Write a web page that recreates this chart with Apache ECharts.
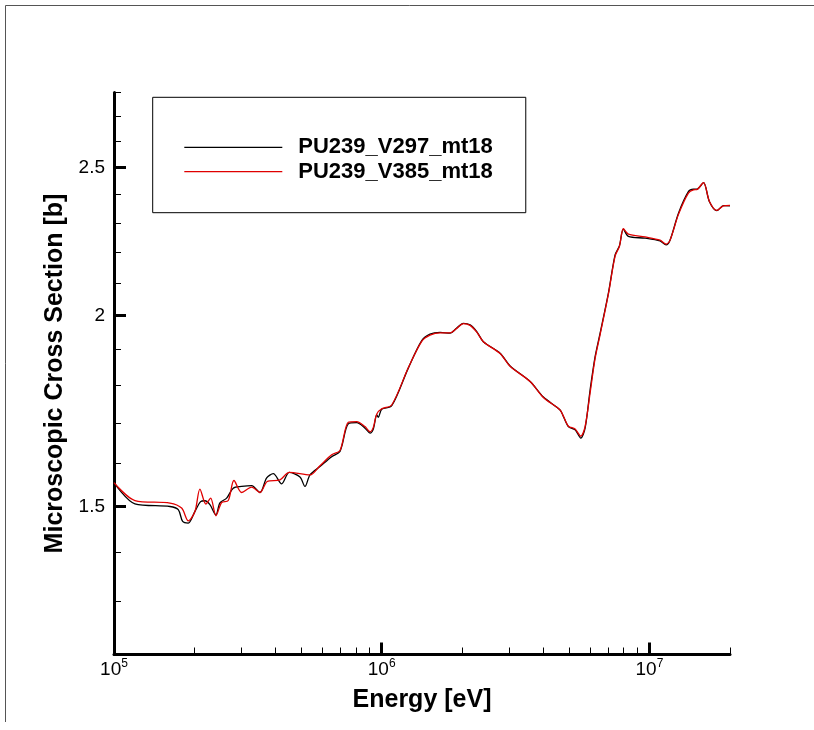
<!DOCTYPE html>
<html>
<head>
<meta charset="utf-8">
<script src="https://cdn.jsdelivr.net/npm/echarts@6/dist/echarts.min.js"></script>
<style>
  html, body { margin: 0; padding: 0; background: #fff; }
  #chart { width: 814px; height: 730px; }
</style>
</head>
<body>
<div id="chart"></div>
<script>
// ---- data (energy in eV, cross section in barns) ----
const seriesNames = ['PU239_V297_mt18', 'PU239_V385_mt18'];

const energyV297 = [1.0e5, 1.197e5, 1.618e5, 1.738e5, 1.805e5, 1.894e5, 2.006e5, 2.106e5, 2.186e5, 2.282e5,
  2.403e5, 2.487e5, 2.635e5, 2.789e5, 2.999e5, 3.267e5, 3.510e5, 3.718e5, 3.935e5, 4.229e5,
  4.515e5, 4.951e5, 5.169e5, 5.397e5, 5.880e5, 6.504e5, 6.986e5, 7.504e5, 8.065e5, 8.663e5,
  9.044e5, 9.304e5, 9.579e5, 9.712e5, 1.0e6, 1.090e6, 1.257e6, 1.411e6, 1.515e6, 1.652e6,
  1.800e6, 1.907e6, 2.018e6, 2.138e6, 2.265e6, 2.397e6, 2.768e6, 3.017e6, 3.584e6, 4.018e6,
  4.638e6, 4.771e6, 4.981e6, 5.277e6, 5.542e6, 5.751e6, 6.004e6, 6.268e6, 6.544e6, 7.027e6,
  7.444e6, 7.725e6, 7.994e6, 8.346e6, 9.636e6, 1.096e7, 1.154e7, 1.195e7, 1.284e7, 1.398e7,
  1.460e7, 1.503e7, 1.592e7, 1.676e7, 1.786e7, 1.890e7, 2.0e7];
const xsV297 = [1.555, 1.506, 1.500, 1.493, 1.4665, 1.463, 1.489, 1.511, 1.513, 1.504,
  1.481, 1.508, 1.519, 1.542, 1.546, 1.548, 1.532, 1.566, 1.576, 1.552,
  1.579, 1.568, 1.546, 1.573, 1.593, 1.617, 1.630, 1.699, 1.702, 1.688,
  1.6755, 1.6856, 1.722, 1.716, 1.737, 1.746, 1.848, 1.926, 1.945, 1.950,
  1.948, 1.963, 1.977, 1.9725, 1.9526, 1.923, 1.890, 1.854, 1.811, 1.769,
  1.735, 1.718, 1.692, 1.684, 1.663, 1.688, 1.788, 1.880, 1.948, 2.069,
  2.192, 2.222, 2.2785, 2.254, 2.248, 2.2386, 2.225, 2.242, 2.334, 2.411,
  2.420, 2.420, 2.444, 2.375, 2.343, 2.361, 2.360];

const energyV385 = [1.0e5, 1.197e5, 1.618e5, 1.789e5, 1.894e5, 2.006e5, 2.094e5, 2.205e5, 2.296e5, 2.403e5,
  2.524e5, 2.672e5, 2.806e5, 2.999e5, 3.267e5, 3.510e5, 3.737e5, 4.169e5, 4.515e5, 5.397e5,
  5.880e5, 6.504e5, 6.986e5,
  7.504e5, 8.065e5, 8.663e5, 9.044e5, 9.304e5, 9.579e5, 1.0e6, 1.090e6, 1.257e6, 1.411e6,
  1.515e6, 1.652e6, 1.800e6, 1.907e6, 2.018e6, 2.138e6, 2.265e6, 2.397e6, 2.768e6, 3.017e6,
  3.584e6, 4.018e6, 4.638e6, 4.771e6, 4.981e6, 5.277e6, 5.542e6, 5.751e6, 6.004e6, 6.268e6,
  6.544e6, 7.027e6, 7.444e6, 7.725e6, 7.994e6, 8.346e6, 9.636e6, 1.096e7, 1.154e7, 1.195e7,
  1.284e7, 1.398e7, 1.460e7, 1.503e7, 1.592e7, 1.676e7, 1.786e7, 1.890e7, 2.0e7];
const xsV385 = [1.555, 1.5136, 1.5077, 1.4964, 1.468, 1.4887, 1.540, 1.5054, 1.519, 1.4791,
  1.509, 1.5136, 1.560, 1.532, 1.5445, 1.532, 1.5576, 1.5616, 1.579, 1.573,
  1.595, 1.6215, 1.632,
  1.703, 1.705, 1.692, 1.679, 1.690, 1.724, 1.738, 1.748, 1.849, 1.924,
  1.942, 1.949, 1.949, 1.962, 1.976, 1.971, 1.951, 1.923, 1.889, 1.853,
  1.811, 1.768, 1.735, 1.719, 1.693, 1.686, 1.668, 1.692, 1.780, 1.875,
  1.944, 2.066, 2.188, 2.220, 2.280, 2.262, 2.252, 2.241, 2.228, 2.242,
  2.330, 2.406, 2.418, 2.419, 2.444, 2.376, 2.344, 2.360, 2.362];

// ---- axis ticks ----
const xMajorTicks = [1e5, 1e6, 1e7];
const xMinorTicks = [2e5, 3e5, 4e5, 5e5, 6e5, 7e5, 8e5, 9e5, 2e6, 3e6, 4e6, 5e6, 6e6, 7e6, 8e6, 9e6, 2e7];
const yMajorTicks = [1.5, 2, 2.5];
const yMinorTicks = [1.2, 1.3, 1.4, 1.6, 1.7, 1.8, 1.9, 2.1, 2.2, 2.3, 2.4, 2.6, 2.7, 2.8];
const xRange = [1e5, 2e7];
const yRange = [1.2, 2.8];

const FONT = 'Liberation Sans, Arial, sans-serif';
const zip = (xs, ys) => xs.map((x, i) => [x, ys[i]]);

const chart = echarts.init(document.getElementById('chart'), null, { renderer: 'canvas' });

const option = {
  backgroundColor: '#fff',
  animation: false,
  graphic: [
    { type: 'line', shape: { x1: 5.5, y1: 5.5, x2: 814, y2: 5.5 }, style: { stroke: '#555', lineWidth: 1 }, silent: true },
    { type: 'line', shape: { x1: 5.5, y1: 5.5, x2: 5.5, y2: 722 }, style: { stroke: '#555', lineWidth: 1 }, silent: true }
  ],
  grid: { left: 114, right: 84, top: 92.5, bottom: 75.5, containLabel: false },
  legend: {
    orient: 'vertical',
    left: 152.7, top: 97.3,
    padding: [39, 33, 30, 31.6],
    itemWidth: 98, itemHeight: 1.2, itemGap: 2.4,
    borderColor: '#000', borderWidth: 1,
    backgroundColor: '#fff',
    textStyle: { fontFamily: FONT, fontWeight: 'bold', fontSize: 22, color: '#000', lineHeight: 22, padding: [0, 0, 0, 11] },
    data: seriesNames.map(n => ({ name: n, icon: 'rect' }))
  },
  xAxis: [
    {
      type: 'log', min: xRange[0], max: xRange[1],
      name: 'Energy [eV]', nameLocation: 'middle', nameGap: 26,
      nameTextStyle: { fontFamily: FONT, fontWeight: 'bold', fontSize: 25, color: '#000' },
      axisLine: { show: true, lineStyle: { color: '#000', width: 3 } },
      axisTick: { show: true, inside: true, length: 12, lineStyle: { color: '#000', width: 3 }, customValues: xMajorTicks },
      axisLabel: {
        show: true, margin: 3, customValues: xMajorTicks,
        fontFamily: FONT, fontSize: 19, color: '#000', lineHeight: 25,
        formatter: v => '10{s|' + Math.round(Math.log10(v)) + '}',
        rich: {
          s: { fontFamily: FONT, fontSize: 12, color: '#000', lineHeight: 12, verticalAlign: 'top' }
        }
      },
      splitLine: { show: false }, minorTick: { show: false }
    },
    {
      type: 'log', min: xRange[0], max: xRange[1], position: 'bottom',
      axisLine: { show: false },
      axisTick: { show: true, inside: true, length: 7, lineStyle: { color: '#000', width: 1 }, customValues: xMinorTicks },
      axisLabel: { show: false },
      splitLine: { show: false }
    }
  ],
  yAxis: [
    {
      type: 'log', min: yRange[0], max: yRange[1],
      name: 'Microscopic Cross Section [b]', nameLocation: 'middle', nameGap: 46,
      nameTextStyle: { fontFamily: FONT, fontWeight: 'bold', fontSize: 25, color: '#000' },
      axisLine: { show: true, lineStyle: { color: '#000', width: 3 } },
      axisTick: { show: true, inside: true, length: 12, lineStyle: { color: '#000', width: 3 }, customValues: yMajorTicks },
      axisLabel: {
        show: true, margin: 9, customValues: yMajorTicks,
        fontFamily: FONT, fontSize: 19, color: '#000',
        formatter: v => String(Math.round(v * 10) / 10)
      },
      splitLine: { show: false }, minorTick: { show: false }
    },
    {
      type: 'log', min: yRange[0], max: yRange[1], position: 'left',
      axisLine: { show: false },
      axisTick: { show: true, inside: true, length: 7, lineStyle: { color: '#000', width: 1 }, customValues: yMinorTicks },
      axisLabel: { show: false },
      splitLine: { show: false }
    }
  ],
  series: [
    {
      name: seriesNames[0], type: 'line', xAxisIndex: 0, yAxisIndex: 0,
      data: zip(energyV297, xsV297),
      symbol: 'none', smooth: 0.3,
      lineStyle: { color: '#000', width: 1.3 }, itemStyle: { color: '#000' },
      z: 3
    },
    {
      name: seriesNames[1], type: 'line', xAxisIndex: 0, yAxisIndex: 0,
      data: zip(energyV385, xsV385),
      symbol: 'none', smooth: 0.3,
      lineStyle: { color: '#e00000', width: 1.3 }, itemStyle: { color: '#e00000' },
      z: 4
    }
  ]
};
chart.setOption(option);
</script>
</body>
</html>
